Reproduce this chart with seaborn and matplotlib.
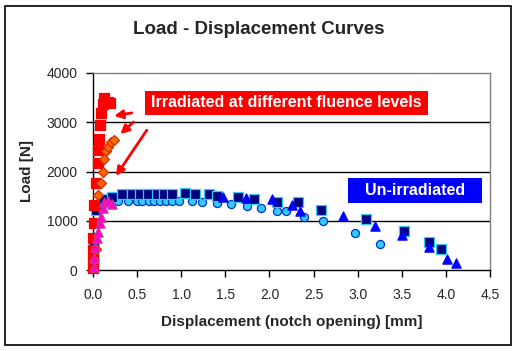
import matplotlib
matplotlib.use("Agg")
import matplotlib.pyplot as plt
import seaborn as sns
import pandas as pd

sns.set_style("white")
plt.rcParams['font.family'] = ['Liberation Sans', 'DejaVu Sans']

# un-irradiated, circles
circ_x = [0.0, 0.0, 0.02, 0.1, 0.2, 0.28, 0.40, 0.50, 0.56, 0.63, 0.69, 0.76, 0.83, 0.89, 0.97,
          1.12, 1.24, 1.40, 1.56, 1.74, 1.90, 2.09, 2.19, 2.39, 2.61, 2.97, 3.25]
circ_y = [60, 575, 1190, 1330, 1400, 1407, 1407, 1407, 1407, 1407, 1407, 1407, 1407, 1407, 1407,
          1407, 1380, 1370, 1340, 1300, 1265, 1204, 1204, 1082, 1000, 757, 528]

# un-irradiated, squares
sq_x = [0.01, 0.03, 0.13, 0.22, 0.33, 0.44, 0.53, 0.62, 0.72, 0.81, 0.90, 1.04, 1.16, 1.31, 1.41,
        1.64, 1.83, 2.08, 2.32, 2.59, 3.09, 3.53, 3.81, 3.95]
sq_y = [600, 1220, 1440, 1490, 1537, 1550, 1550, 1550, 1550, 1550, 1550, 1560, 1537, 1537, 1510,
        1480, 1442, 1387, 1374, 1218, 1035, 799, 562, 433]

# un-irradiated, triangles
tri_x = [1.47, 1.73, 2.03, 2.26, 2.35, 2.83, 3.20, 3.50, 3.81, 4.01, 4.12]
tri_y = [1490, 1455, 1435, 1320, 1204, 1102, 900, 711, 474, 223, 148]

# irradiated, red squares
red_x = [0.0, 0.0, 0.005, 0.005, 0.01, 0.015, 0.034, 0.053, 0.06, 0.071, 0.083, 0.09, 0.11,
         0.128, 0.166, 0.196]
red_y = [35, 200, 400, 640, 950, 1320, 1760, 2170, 2440, 2670, 2940, 3180, 3380, 3490, 3420, 3400]

# irradiated, orange diamonds
dia_x = [0.015, 0.034, 0.053, 0.09, 0.11, 0.128, 0.147, 0.166, 0.20, 0.24]
dia_y = [200, 420, 1520, 1760, 2000, 2250, 2420, 2500, 2605, 2640]

# irradiated, magenta triangles
mag_x = [0.015, 0.01, 0.025, 0.04, 0.055, 0.075, 0.09, 0.11, 0.128, 0.166, 0.215]
mag_y = [55, 250, 475, 640, 780, 950, 1080, 1250, 1390, 1405, 1340]

fig = plt.figure(figsize=(5.18, 3.51), dpi=100)
ax = fig.add_axes([93/518, 1 - 270/351, 397/518, 197/351])

styles = [
    (circ_x, circ_y, "o", "#33CCFF", "#0033CC", 34),
    (sq_x, sq_y, "s", "#000080", "#33CCFF", 44),
    (tri_x, tri_y, "^", "#0000FF", "#0000FF", 44),
    (red_x, red_y, "s", "#FF0000", "#FF0000", 44),
    (dia_x, dia_y, "D", "#FF6600", "#CC3300", 26),
    (mag_x, mag_y, "^", "#FF00CC", "#CC3399", 44),
]
for xs, ys, m, fc, ec, s in styles:
    df = pd.DataFrame({"x": xs, "y": ys})
    sns.scatterplot(data=df, x="x", y="y", marker=m, color=fc, edgecolor=ec,
                    linewidth=0.9, s=s, ax=ax, zorder=3, clip_on=False)

ax.set_xlim(0, 4.5)
ax.set_ylim(0, 4000)
ax.set_xticks([0, 0.5, 1, 1.5, 2, 2.5, 3, 3.5, 4, 4.5])
ax.set_xticklabels(["0.0", "0.5", "1.0", "1.5", "2.0", "2.5", "3.0", "3.5", "4.0", "4.5"])
ax.set_yticks([0, 1000, 2000, 3000, 4000])
ax.tick_params(axis="both", labelsize=10, direction="out", length=5, width=1,
               color="black", bottom=True, left=True)
ax.tick_params(axis="x", pad=8)
ax.tick_params(axis="y", pad=6)
for y in [1000, 2000, 3000]:
    ax.axhline(y, color="black", lw=1, zorder=1)
for side in ["left", "bottom"]:
    ax.spines[side].set_color("black")
    ax.spines[side].set_linewidth(1)
for side in ["top", "right"]:
    ax.spines[side].set_color("#808080")
    ax.spines[side].set_linewidth(1)

ax.set_xlabel("Displacement (notch opening) [mm]", fontsize=11, fontweight="bold", labelpad=9)
ax.set_ylabel("Load [N]", fontsize=11, fontweight="bold", labelpad=9)
fig.suptitle("Load - Displacement Curves", fontsize=13.5, fontweight="bold", y=0.94)

# label boxes, drawn in data units
ax.add_patch(plt.Rectangle((0.589, 3147), 3.205, 488, fc="#FF0000", ec="none", zorder=4))
ax.add_patch(plt.Rectangle((2.888, 1360), 1.517, 508, fc="#0000FF", ec="none", zorder=4))
ax.text(2.19, 3391, "Irradiated at different fluence levels", color="white",
        fontsize=11.5, fontweight="bold", ha="center", va="center", zorder=5)
ax.text(3.647, 1614, "Un-irradiated", color="white", fontsize=11.5, fontweight="bold",
        ha="center", va="center", zorder=5)
# x0, y0 -> x1, y1 for each arrow
arrows = [((0.44, 3190), (0.24, 3127)), ((0.46, 3005), (0.31, 2760)), ((0.61, 2840), (0.26, 1910))]
for tail, head in arrows:
    ax.annotate("", xy=head, xytext=tail, zorder=4,
                arrowprops=dict(arrowstyle="-|>,head_length=0.5,head_width=0.25",
                                color="#FF0000", lw=2, shrinkA=0, shrinkB=0))

fig.patches.append(plt.Rectangle((5/518, 6/351), 506/518, 339/351, transform=fig.transFigure,
                                 fill=False, ec="black", lw=1.2))
fig.savefig("out.png", dpi=100)
